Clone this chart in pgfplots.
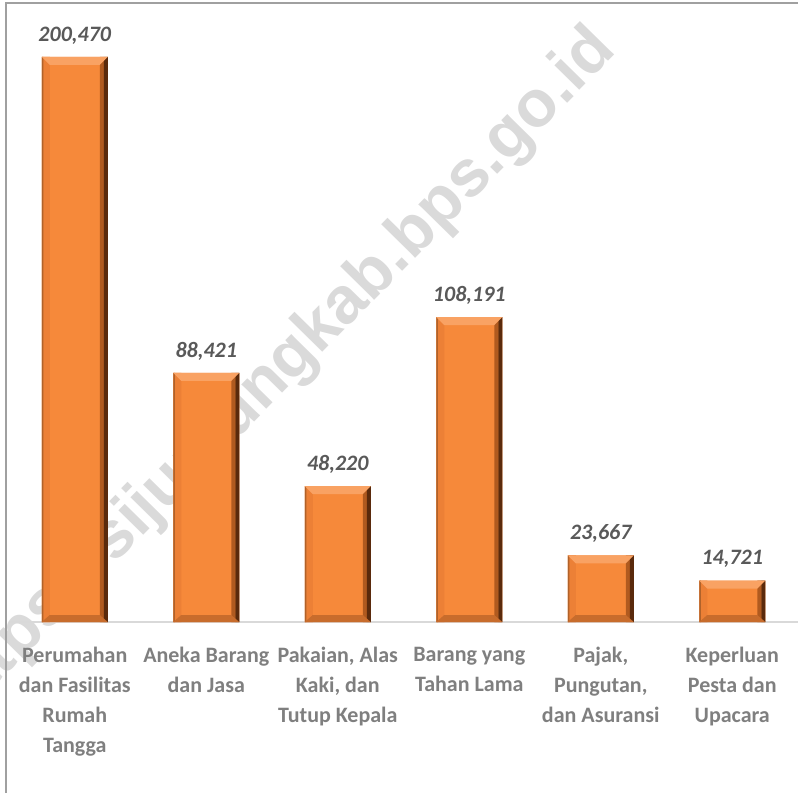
\documentclass[border=0pt]{standalone}
\usepackage{pgfplots}
\pgfplotsset{compat=1.18}
\usepackage{fontspec}
\setmainfont{Carlito}
\newfontfamily\wmfont{Liberation Sans}
\definecolor{barmain}{HTML}{F6893A}
\definecolor{bartop}{HTML}{F9A263}
\definecolor{barbottom}{HTML}{C86C2C}
\definecolor{barleft}{HTML}{EC8036}
\definecolor{barleftedge}{HTML}{B0622A}
\definecolor{barrightA}{HTML}{B05A1F}
\definecolor{barrightB}{HTML}{5A2A0C}
\definecolor{axgray}{HTML}{D9D9D9}
\definecolor{framegray}{HTML}{A0A0A0}
\definecolor{labgray}{HTML}{7F7F7F}
\definecolor{valgray}{HTML}{595959}
\definecolor{wmgray}{HTML}{DADADA}
\pgfdeclareplotmark{bevtop}{%
  \pgfpathmoveto{\pgfpoint{-33pt}{0pt}}%
  \pgfpathlineto{\pgfpoint{33pt}{0pt}}%
  \pgfpathlineto{\pgfpoint{25pt}{-8pt}}%
  \pgfpathlineto{\pgfpoint{-25pt}{-8pt}}%
  \pgfpathclose
  \pgfusepathqfill}
\pgfdeclareplotmark{bevbot}{%
  \pgfpathmoveto{\pgfpoint{-33pt}{0pt}}%
  \pgfpathlineto{\pgfpoint{33pt}{0pt}}%
  \pgfpathlineto{\pgfpoint{25pt}{7pt}}%
  \pgfpathlineto{\pgfpoint{-25pt}{7pt}}%
  \pgfpathclose
  \pgfusepathqfill}
\pgfplotstableread{
x y base label
0 200470 0 200,470
1 88421 0 88,421
2 48220 0 48,220
3 108191 0 108,191
4 23667 0 23,667
5 14721 0 14,721
}\datatable
\begin{document}
\begin{tikzpicture}[x=1pt,y=1pt]
\useasboundingbox (0,0) rectangle (798,793);
\node[rotate=45.5, text=wmgray, font=\wmfont\bfseries\fontsize{66}{66}\selectfont] at (277,418) {https://sijunjungkab.bps.go.id};
\draw[framegray, line width=1.3pt] (6,0) -- (6,790) -- (798,790);
\begin{axis}[at={(9pt,171pt)}, anchor=south west, scale only axis,
  width=789pt, height=619pt,
  ymin=0, ymax=219600, xmin=-0.5, xmax=5.5,
  axis y line=none, axis x line*=bottom,
  x axis line style={draw=axgray, line width=1.2pt, -},
  xtick={0,...,5}, major tick length=0pt,
  xticklabels={{Perumahan\\dan Fasilitas\\Rumah\\Tangga},{Aneka Barang\\dan Jasa},{Pakaian, Alas\\Kaki, dan\\Tutup Kepala},{Barang yang\\Tahan Lama},{Pajak,\\Pungutan,\\dan Asuransi},{Keperluan\\Pesta dan\\Upacara}},
  xticklabel style={align=center, font=\bfseries\fontsize{22}{30}\selectfont, text=labgray, yshift=-22pt},
  clip=false]
\addplot[ybar, bar width=66pt, bar shift=0pt, fill=barmain, draw=none,
  nodes near coords, point meta=explicit symbolic,
  every node near coord/.append style={font=\bfseries\itshape\fontsize{22}{22}\selectfont, text=valgray, yshift=9pt}]
  table[x=x, y=y, meta=label] {\datatable};
\addplot[ybar, bar width=8pt, bar shift=-29pt, fill=barleft, draw=none] table[x=x, y=y] {\datatable};
\addplot[ybar, bar width=1.6pt, bar shift=-32.2pt, fill=barleftedge, draw=none] table[x=x, y=y] {\datatable};
\addplot[ybar, bar width=4pt, bar shift=27pt, fill=barrightA, draw=none] table[x=x, y=y] {\datatable};
\addplot[ybar, bar width=4pt, bar shift=31pt, fill=barrightB, draw=none] table[x=x, y=y] {\datatable};
\addplot[only marks, mark=bevtop, mark options={fill=bartop, draw=none}] table[x=x, y=y] {\datatable};
\addplot[only marks, mark=bevbot, mark options={fill=barbottom, draw=none}] table[x=x, y=base] {\datatable};
\end{axis}
\end{tikzpicture}
\end{document}
